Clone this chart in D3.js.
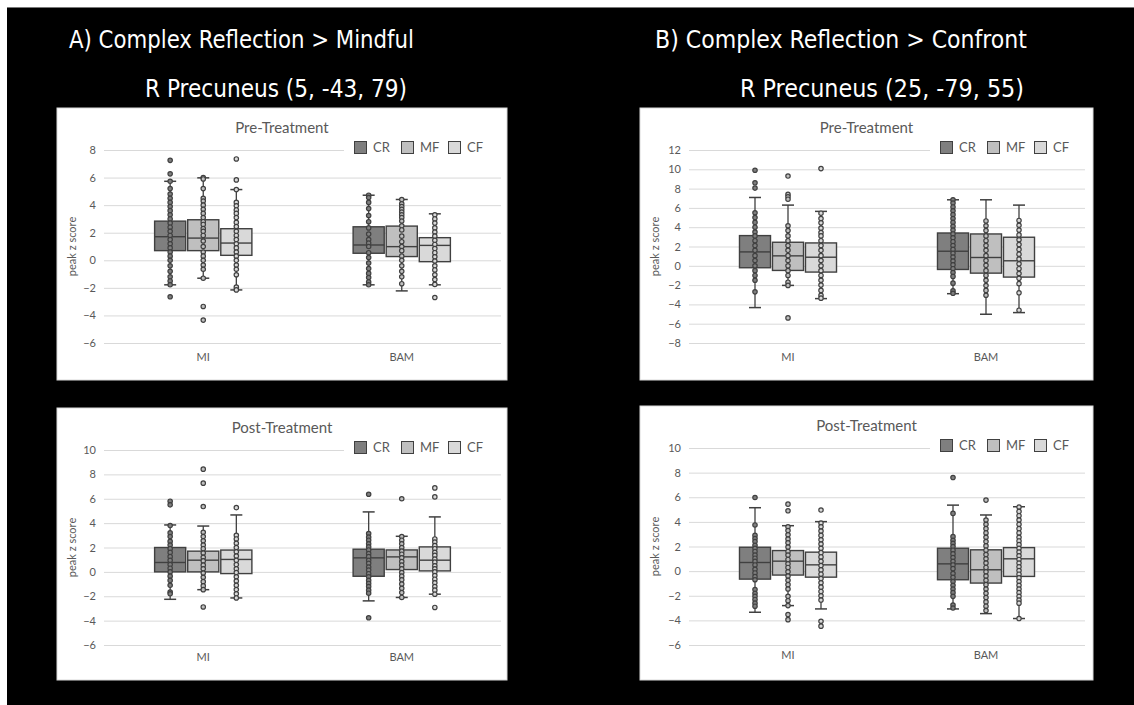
<!DOCTYPE html>
<html><head><meta charset="utf-8">
<script src="https://cdn.jsdelivr.net/npm/d3@7"></script>
<style>body{margin:0;background:#fff;} svg{display:block}</style>
</head><body><svg id="c" width="1134" height="705"></svg>
<script>
// ---------- DATA ----------
const categories = ["MI", "BAM"];
const series = ["CR", "MF", "CF"];
const seriesFill = ["#7f7f7f", "#bfbfbf", "#d9d9d9"];

const headingA = "A) Complex Reflection > Mindful";
const headingB = "B) Complex Reflection > Confront";
const regionA = "R Precuneus (5, -43, 79)";
const regionB = "R Precuneus (25, -79, 55)";
const panelTitles = ["Pre-Treatment", "Post-Treatment"];
const yTitle = "peak z score";

const ticksApre = [-6, -4, -2, 0, 2, 4, 6, 8];
const ticksBpre = [-8, -6, -4, -2, 0, 2, 4, 6, 8, 10, 12];
const ticksApost = [-6, -4, -2, 0, 2, 4, 6, 8, 10];
const ticksBpost = [-6, -4, -2, 0, 2, 4, 6, 8, 10];

// box stats: [q1, median, q3, whiskerLow, whiskerHigh]
// order: MI-CR, MI-MF, MI-CF, BAM-CR, BAM-MF, BAM-CF
const statsApre = [
  [0.70, 1.71, 2.84, -1.78, 5.73],
  [0.70, 1.61, 2.94, -1.30, 5.98],
  [0.36, 1.25, 2.29, -2.15, 5.13],
  [0.51, 1.11, 2.43, -1.78, 4.72],
  [0.27, 0.99, 2.48, -2.22, 4.41],
  [-0.10, 1.08, 1.64, -1.78, 3.37]
];
const pointsApre = [
  [7.25, 6.27, 5.73, 5.2, 4.8, 4.5, 4.2, 3.9, 3.6, 3.3, 3.0, 2.7, 2.4, 2.1, 1.8, 1.5, 1.2, 0.9, 0.6, 0.3, 0.0, -0.4, -0.8, -1.2, -1.5, -1.78, -2.65],
  [6.0, 5.9, 5.2, 4.5, 4.3, 4.0, 3.7, 3.4, 3.1, 2.8, 2.6, 2.3, 2.1, 1.8, 1.4, 1.0, 0.6, 0.3, 0.0, -0.35, -0.65, -1.3, -3.35, -4.34],
  [7.35, 5.83, 5.13, 4.2, 3.95, 3.65, 3.4, 3.1, 2.75, 2.45, 2.1, 1.8, 1.5, 1.2, 0.9, 0.6, 0.3, 0.0, -0.35, -0.65, -1.05, -1.95, -2.15],
  [4.72, 4.55, 4.2, 3.75, 3.25, 2.8, 2.35, 1.9, 1.5, 1.25, 1.0, 0.55, 0.2, -0.2, -0.6, -0.95, -1.25, -1.57, -1.78],
  [4.41, 4.1, 3.9, 3.7, 3.5, 3.3, 3.1, 2.85, 2.5, 2.2, 1.75, 1.35, 1.0, 0.7, 0.3, 0.0, -0.4, -0.8, -1.2, -1.7],
  [3.3, 3.0, 2.7, 2.35, 2.05, 1.75, 1.45, 1.15, 0.85, 0.55, 0.25, -0.05, -0.4, -0.7, -1.05, -1.4, -1.75, -2.7]
];

const statsBpre = [
  [-0.20, 1.44, 3.13, -4.33, 7.08],
  [-0.48, 1.03, 2.44, -2.03, 6.29],
  [-0.65, 0.89, 2.37, -3.40, 5.64],
  [-0.38, 1.51, 3.40, -2.89, 6.84],
  [-0.76, 0.86, 3.30, -5.02, 6.84],
  [-1.17, 0.52, 2.96, -4.85, 6.29]
];
const pointsBpre = [
  [9.9, 8.6, 8.05, 5.5, 5.0, 4.5, 4.0, 3.5, 3.1, 2.6, 2.1, 1.6, 1.05, 0.55, 0.0, -0.5, -1.0, -1.5, -2.7],
  [9.3, 7.4, 7.15, 6.9, 4.15, 3.65, 3.1, 2.6, 2.1, 1.6, 1.05, 0.55, 0.0, -0.5, -1.0, -1.7, -2.03, -5.4],
  [10.07, 5.45, 4.9, 4.45, 3.9, 3.45, 3.1, 2.6, 2.1, 1.6, 1.05, 0.55, 0.0, -0.5, -1.0, -1.5, -2.0, -2.55, -3.05, -3.35],
  [6.84, 6.5, 6.1, 5.7, 5.3, 4.9, 4.5, 4.1, 3.7, 3.3, 2.9, 2.5, 2.1, 1.7, 1.3, 0.9, 0.5, 0.1, -0.3, -0.7, -1.1, -1.8, -2.6, -2.85],
  [4.65, 4.15, 3.65, 3.1, 2.6, 2.1, 1.6, 1.05, 0.55, 0.05, -0.5, -1.0, -1.5, -2.05, -2.55, -3.05],
  [4.7, 4.2, 3.7, 3.2, 2.7, 2.2, 1.7, 1.2, 0.7, 0.2, -0.3, -0.8, -1.3, -1.85, -2.8, -4.6]
];

const statsApost = [
  [0.0, 0.77, 2.0, -2.25, 3.85],
  [0.0, 0.96, 1.70, -1.46, 3.76],
  [-0.14, 1.02, 1.79, -2.14, 4.67],
  [-0.36, 1.15, 1.86, -2.38, 4.92],
  [0.19, 1.23, 1.80, -2.10, 2.92],
  [0.08, 0.96, 2.05, -1.83, 4.51]
];
const pointsApost = [
  [5.8, 5.5, 3.8, 3.2, 2.9, 2.5, 2.2, 1.9, 1.6, 1.25, 0.95, 0.6, 0.3, 0.0, -0.35, -0.7, -1.1, -1.65, -1.8],
  [8.43, 7.28, 5.36, 3.25, 2.9, 2.55, 2.2, 1.9, 1.55, 1.2, 0.9, 0.55, 0.25, -0.1, -0.45, -0.8, -1.15, -1.46, -2.88],
  [5.27, 3.0, 2.7, 2.35, 2.0, 1.65, 1.3, 0.95, 0.6, 0.25, -0.05, -0.4, -0.75, -1.1, -1.45, -1.8, -2.14],
  [6.37, 3.15, 2.85, 2.6, 2.3, 2.05, 1.8, 1.5, 1.25, 0.95, 0.7, 0.4, 0.15, -0.15, -0.4, -0.7, -0.95, -1.2, -1.5, -1.75, -3.77],
  [6.0, 2.9, 2.6, 2.3, 2.0, 1.7, 1.45, 1.15, 0.85, 0.55, 0.25, -0.05, -0.35, -0.65, -1.0, -1.35, -1.7, -2.1],
  [6.89, 6.15, 2.7, 2.45, 2.15, 1.9, 1.6, 1.35, 1.05, 0.8, 0.5, 0.25, 0.0, -0.3, -0.6, -0.9, -1.2, -1.5, -1.83, -2.92]
];

const statsBpost = [
  [-0.65, 0.70, 1.94, -3.34, 5.15],
  [-0.32, 0.81, 1.67, -2.80, 3.69],
  [-0.49, 0.51, 1.54, -3.07, 4.02],
  [-0.70, 0.59, 1.86, -3.07, 5.36],
  [-0.97, 0.11, 1.73, -3.45, 4.56],
  [-0.43, 1.00, 1.91, -3.85, 5.23]
];
const pointsBpost = [
  [5.98, 3.75, 2.9, 2.65, 2.4, 2.1, 1.85, 1.6, 1.3, 1.05, 0.8, 0.5, 0.15, -0.15, -0.45, -0.7, -1.5, -1.8, -2.05, -2.3, -2.6, -2.85],
  [5.44, 4.9, 3.6, 3.3, 2.95, 2.6, 2.3, 1.95, 1.6, 1.3, 0.95, 0.6, 0.3, -0.05, -0.4, -0.75, -1.1, -1.45, -2.05, -2.4, -2.8, -3.53, -3.94],
  [4.96, 3.9, 3.6, 3.25, 2.9, 2.55, 2.2, 1.85, 1.5, 1.15, 0.8, 0.45, 0.1, -0.25, -0.6, -0.95, -1.3, -1.65, -2.0, -2.35, -4.07, -4.47],
  [7.6, 4.69, 2.8, 2.5, 2.25, 2.0, 1.7, 1.4, 1.1, 0.8, 0.5, 0.2, -0.2, -0.5, -0.85, -1.15, -1.45, -1.75, -2.05, -2.75, -3.0],
  [5.77, 4.15, 3.8, 3.45, 3.1, 2.75, 2.4, 2.05, 1.7, 1.35, 1.0, 0.65, 0.3, -0.05, -0.4, -0.75, -1.1, -1.45, -1.8, -2.15, -2.5, -2.85, -3.2],
  [5.2, 4.85, 4.5, 4.15, 3.8, 3.45, 3.1, 2.75, 2.45, 2.15, 1.85, 1.55, 1.25, 0.95, 0.65, 0.35, 0.05, -0.25, -0.55, -0.85, -1.15, -1.45, -1.75, -2.05, -2.35, -2.6, -3.85]
];

// ---------- LAYOUT ----------
const W = 1134, H = 705;
const svg = d3.select("#c");
const FONT = "Lato, 'Open Sans', 'Liberation Sans', sans-serif";
const TXT = "#595959";
const EDGE = "#404040";

svg.append("rect").attr("x", 0).attr("y", 0).attr("width", W).attr("height", H).attr("fill", "#fff");
svg.append("rect").attr("x", 7).attr("y", 7).attr("width", W - 7).attr("height", H - 7).attr("fill", "#000");
svg.append("line").attr("x1", 7).attr("x2", W).attr("y1", 7.5).attr("y2", 7.5).attr("stroke", "#777");

function heading(text, x, y, len) {
  svg.append("text").attr("x", x).attr("y", y).text(text)
    .attr("fill", "#fff")
    .attr("font-family", "'Liberation Sans Narrow', 'DejaVu Sans Condensed', 'Open Sans', sans-serif")
    .attr("font-size", 24)
    .attr("textLength", len).attr("lengthAdjust", "spacingAndGlyphs");
}
heading(headingA, 69, 48, 345);
heading(regionA, 145, 97, 262);
heading(headingB, 655, 48, 372);
heading(regionB, 740, 97, 284);

const panels = [
  {title: panelTitles[0], stats: statsApre, pts: pointsApre, ticks: ticksApre, box: [57, 108, 450, 272], plot: [104, 150, 397, 193]},
  {title: panelTitles[0], stats: statsBpre, pts: pointsBpre, ticks: ticksBpre, box: [640, 108, 453, 272], plot: [689, 150, 396, 193]},
  {title: panelTitles[1], stats: statsApost, pts: pointsApost, ticks: ticksApost, box: [57, 408, 450, 272], plot: [104, 450, 397, 195]},
  {title: panelTitles[1], stats: statsBpost, pts: pointsBpost, ticks: ticksBpost, box: [640, 406, 453, 274], plot: [689, 448, 396, 197]}
];

panels.forEach(p => {
  const [bx, by, bw, bh] = p.box;
  const [px, py, pw, ph] = p.plot;
  const g = svg.append("g");
  g.append("rect").attr("x", bx).attr("y", by).attr("width", bw).attr("height", bh)
    .attr("fill", "#fff").attr("stroke", "#d9d9d9");

  const y = d3.scaleLinear().domain(d3.extent(p.ticks)).range([py + ph, py]);
  const x = d3.scaleBand().domain(categories).range([px, px + pw]);
  const xs = d3.scaleBand().domain(series).range([0, x.bandwidth()]).paddingInner(0.06).paddingOuter(1.53);

  // gridlines
  const grid = g.append("g").attr("transform", `translate(${px},0)`)
    .call(d3.axisLeft(y).tickValues(p.ticks).tickSize(-pw).tickFormat(""));
  grid.select(".domain").remove();
  grid.selectAll("line").attr("stroke", "#d9d9d9").attr("stroke-width", 1);

  // y tick labels
  const ya = g.append("g").attr("transform", `translate(${px - 8},0)`)
    .call(d3.axisLeft(y).tickValues(p.ticks).tickSize(0).tickPadding(0).tickFormat(d3.format("d")));
  ya.select(".domain").remove();
  ya.selectAll("text").attr("fill", TXT).attr("font-family", FONT).attr("font-size", 11);

  // x labels
  const xa = g.append("g").attr("transform", `translate(0,${by + 245})`)
    .call(d3.axisBottom(x).tickSize(0).tickPadding(0));
  xa.select(".domain").remove();
  xa.selectAll("text").attr("fill", TXT).attr("font-family", FONT).attr("font-size", 11);

  // y title
  g.append("text").attr("transform", `translate(${bx + 19},${py + ph / 2}) rotate(-90)`)
    .attr("text-anchor", "middle").attr("fill", TXT).attr("font-family", FONT).attr("font-size", 11).text(yTitle);

  // panel title
  g.append("text").attr("x", bx + bw / 2).attr("y", by + 25).attr("text-anchor", "middle")
    .attr("fill", TXT).attr("font-family", FONT).attr("font-size", 15).text(p.title);

  // legend
  const lx = bx + bw - 153, ly = by + 33;
  g.append("rect").attr("x", lx - 10).attr("y", ly - 8).attr("width", bw - 153 + 10 - (bw - 153) + 153 - 4).attr("height", 26).attr("fill", "#fff");
  series.forEach((s, i) => {
    const sx = lx + i * 47;
    g.append("rect").attr("x", sx + 0.5).attr("y", ly + 0.5).attr("width", 12).attr("height", 12)
      .attr("fill", seriesFill[i]).attr("stroke", EDGE).attr("stroke-width", 1);
    g.append("text").attr("x", sx + 19).attr("y", ly + 11).attr("fill", TXT)
      .attr("font-family", FONT).attr("font-size", 13).text(s);
  });

  // boxes
  categories.forEach((c, ci) => {
    series.forEach((s, si) => {
      const k = ci * 3 + si;
      const [q1, med, q3, lo, hi] = p.stats[k];
      const x0 = x(c) + xs(s), bwid = xs.bandwidth(), cx = x0 + bwid / 2;
      const bg = g.append("g");
      // whiskers
      bg.append("line").attr("x1", cx).attr("x2", cx).attr("y1", y(hi)).attr("y2", y(q3)).attr("stroke", EDGE).attr("stroke-width", 1.3);
      bg.append("line").attr("x1", cx).attr("x2", cx).attr("y1", y(q1)).attr("y2", y(lo)).attr("stroke", EDGE).attr("stroke-width", 1.3);
      [hi, lo].forEach(v => bg.append("line").attr("x1", cx - 6).attr("x2", cx + 6).attr("y1", y(v)).attr("y2", y(v)).attr("stroke", EDGE).attr("stroke-width", 1.5));
      bg.append("rect").attr("x", x0).attr("y", y(q3)).attr("width", bwid).attr("height", y(q1) - y(q3))
        .attr("fill", seriesFill[si]).attr("stroke", EDGE).attr("stroke-width", 1.4);
      bg.append("line").attr("x1", x0).attr("x2", x0 + bwid).attr("y1", y(med)).attr("y2", y(med)).attr("stroke", EDGE).attr("stroke-width", 1.4);
      bg.selectAll("circle.pt").data(p.pts[k]).join("circle").attr("class", "pt")
        .attr("cx", cx).attr("cy", d => y(d)).attr("r", 2.2)
        .attr("fill", seriesFill[si]).attr("stroke", EDGE).attr("stroke-width", 1.2);
    });
  });
});
</script></body></html>
